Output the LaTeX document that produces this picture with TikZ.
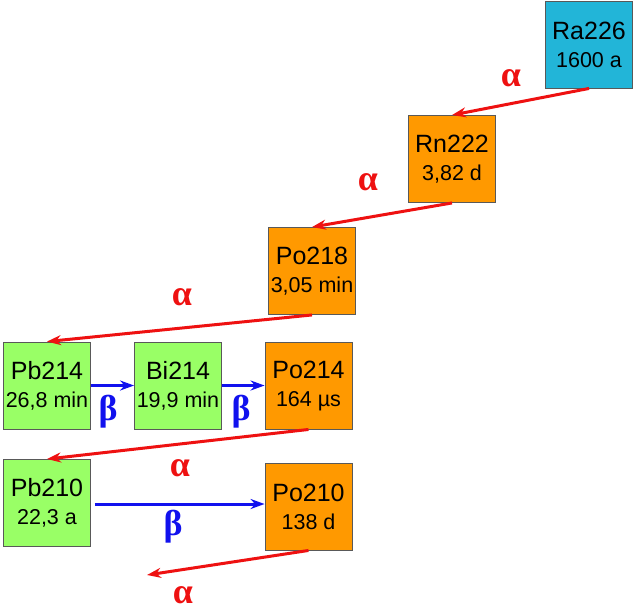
\documentclass[tikz,border=0pt]{standalone}
\usepackage{fontspec}
\setmainfont{Liberation Sans}
\newfontfamily\greekfont{Liberation Serif}
\usetikzlibrary{arrows.meta}
\definecolor{racol}{HTML}{22B5D8}
\definecolor{orcol}{HTML}{FF9900}
\definecolor{grcol}{HTML}{99FF66}
\definecolor{alcol}{HTML}{EE1111}
\definecolor{becol}{HTML}{1111EE}
\tikzset{
  nuc/.style={draw=black!65, line width=0.9pt, minimum width=87pt, minimum height=87pt, inner sep=0pt, align=center, font=\fontsize{21.5}{28}\selectfont},
  alpharr/.style={draw=alcol, line width=3pt, -{Stealth[length=14pt,width=10pt]}},
  betarr/.style={draw=becol, line width=3pt, -{Stealth[length=14pt,width=10pt]}},
  glab/.style={inner sep=0pt, font=\greekfont\fontsize{36}{36}\selectfont\bfseries},
  alab/.style={glab, text=alcol},
  blab/.style={glab, text=becol},
}
\newcommand{\nucname}[1]{{\fontsize{25}{28}\selectfont #1}}
\begin{document}
\begin{tikzpicture}[x=1pt,y=-1pt]
\useasboundingbox (0,0) rectangle (636,611);
\node[nuc, fill=racol] (ra) at (589,44.5) {\nucname{Ra226}\\1600 a};
\node[nuc, fill=orcol] (rn) at (452,159) {\nucname{Rn222}\\3,82 d};
\node[nuc, fill=orcol] (po218) at (312,271) {\nucname{Po218}\\3,05 min};
\node[nuc, fill=grcol] (pb214) at (47,385.5) {\nucname{Pb214}\\26,8 min};
\node[nuc, fill=grcol] (bi214) at (178,385.5) {\nucname{Bi214}\\19,9 min};
\node[nuc, fill=orcol] (po214) at (308.5,385.5) {\nucname{Po214}\\164 µs};
\node[nuc, fill=grcol] (pb210) at (47,503) {\nucname{Pb210}\\22,3 a};
\node[nuc, fill=orcol] (po210) at (308.5,506.5) {\nucname{Po210}\\138 d};
\coordinate (end) at (147,575);

\draw[alpharr] (ra.south) -- (rn.north);
\draw[alpharr] (rn.south) -- (po218.north);
\draw[alpharr] (po218.south) -- (pb214.north);
\draw[alpharr] (po214.south) -- (pb210.north);
\draw[alpharr] (po210.south) -- (end);
\draw[betarr] (pb214.east) -- (bi214.west);
\draw[betarr] (bi214.east) -- (po214.west);
\draw[betarr, shorten <=4pt] ([yshift=-1pt]pb210.east) -- ([yshift=-1pt]pb210.east -| po210.west);

\node[alab] (a1) at (511,78) {α};
\node[alab] (a2) at (368,182) {α};
\node[alab] (a3) at (182,297) {α};
\node[alab] (a4) at (180,468) {α};
\node[alab] (a5) at (183,595) {α};
\node[blab] (b1) at (108,412) {β};
\node[blab] (b2) at (241,412) {β};
\node[blab] (b3) at (173,527) {β};
\end{tikzpicture}
\end{document}
